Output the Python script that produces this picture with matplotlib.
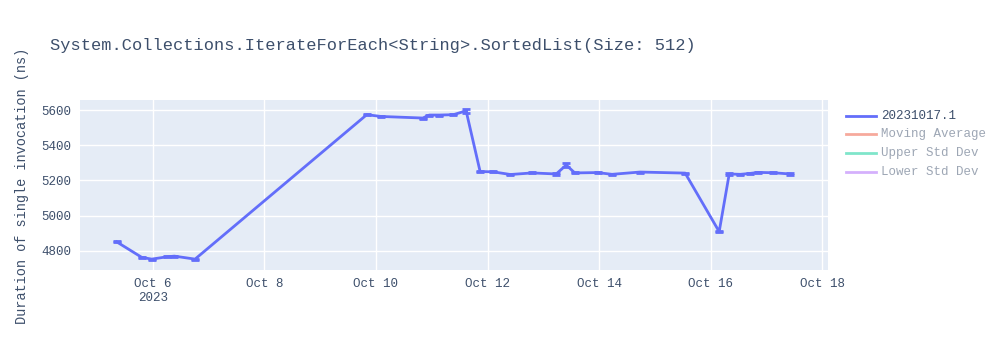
import matplotlib
matplotlib.use("Agg")
import matplotlib.pyplot as plt
import matplotlib.dates as mdates
import pandas as pd

# benchmark runs
run_times = [
    "2023-10-05 08:31", "2023-10-05 19:16", "2023-10-05 23:34", "2023-10-06 06:01",
    "2023-10-06 09:17", "2023-10-06 18:12", "2023-10-09 20:02", "2023-10-10 02:11",
    "2023-10-10 20:08", "2023-10-10 22:58", "2023-10-11 03:16", "2023-10-11 09:17",
    "2023-10-11 14:46", "2023-10-11 20:47", "2023-10-12 02:31", "2023-10-12 09:50",
    "2023-10-12 19:12", "2023-10-13 05:31", "2023-10-13 09:50", "2023-10-13 13:30",
    "2023-10-13 23:17", "2023-10-14 05:31", "2023-10-14 17:31", "2023-10-15 12:58",
    "2023-10-16 03:36", "2023-10-16 07:55", "2023-10-16 12:43", "2023-10-16 16:48",
    "2023-10-16 20:24", "2023-10-17 02:53", "2023-10-17 10:05",
]
duration_ns = [
    4851, 4763, 4753, 4766, 4770, 4753, 5574, 5564,
    5555, 5572, 5572, 5574, 5596, 5251, 5249, 5234,
    5243, 5237, 5288, 5243, 5245, 5235, 5248, 5242,
    4909, 5237, 5235, 5240, 5246, 5244, 5237,
]
error_ns = [
    3, 3, 3, 3, 3, 3, 3, 3,
    3, 3, 3, 3, 10, 3, 3, 3,
    3, 3, 12, 3, 3, 3, 3, 3,
    4, 3, 3, 3, 3, 3, 3,
]
legend_names = ["20231017.1", "Moving Average", "Upper Std Dev", "Lower Std Dev"]
legend_colors = ["#636efa", "#ef553b", "#00cc96", "#ab63fa"]
y_ticks = [4800, 5000, 5200, 5400, 5600]

times = pd.to_datetime(run_times)

font = ["Liberation Mono", "DejaVu Sans Mono"]
plt.rcParams["font.family"] = font
txt = "#3d4f6b"

fig = plt.figure(figsize=(10, 3.5), dpi=100)
ax = fig.add_axes([0.08, 0.229, 0.748, 0.485])
ax.set_facecolor("#e5ecf6")

ax.errorbar(times, duration_ns, yerr=error_ns, color=legend_colors[0], lw=2,
            elinewidth=2, capsize=3, capthick=2, zorder=3)

ax.set_xlim(pd.Timestamp("2023-10-04 16:43"), pd.Timestamp("2023-10-18 02:24"))
ax.set_ylim(4692, 5657)
ax.set_yticks(y_ticks)
ax.xaxis.set_major_locator(mdates.DayLocator(bymonthday=range(6, 19, 2)))
labels = [pd.Timestamp(f"2023-10-{d}").strftime("%b ") + str(d) for d in range(6, 19, 2)]
labels[0] = labels[0] + "\n2023"
ax.set_xticklabels(labels)

ax.grid(True, color="white", lw=1)
ax.set_axisbelow(True)
for s in ax.spines.values():
    s.set_visible(False)
ax.tick_params(length=0, labelsize=9, labelcolor=txt, pad=6)

fig.text(0.05, 0.871, "System.Collections.IterateForEach<String>.SortedList(Size: 512)",
         fontsize=12.25, color=txt, va="center", ha="left")
fig.text(0.022, 0.47, "Duration of single invocation (ns)", rotation=90,
         fontsize=9.8, color=txt, va="center", ha="center")

# legend, first entry visible, others legend-only (faded)
leg_y = [0.669, 0.617, 0.563, 0.509]
for i, (name, col) in enumerate(zip(legend_names, legend_colors)):
    a = 1.0 if i == 0 else 0.5
    fig.add_artist(plt.Line2D([0.846, 0.876], [leg_y[i], leg_y[i]], color=col,
                              lw=2, alpha=a, transform=fig.transFigure))
    fig.text(0.881, leg_y[i], name, fontsize=9, color=txt, alpha=a,
             va="center", ha="left")

fig.savefig("out.png", dpi=100)
